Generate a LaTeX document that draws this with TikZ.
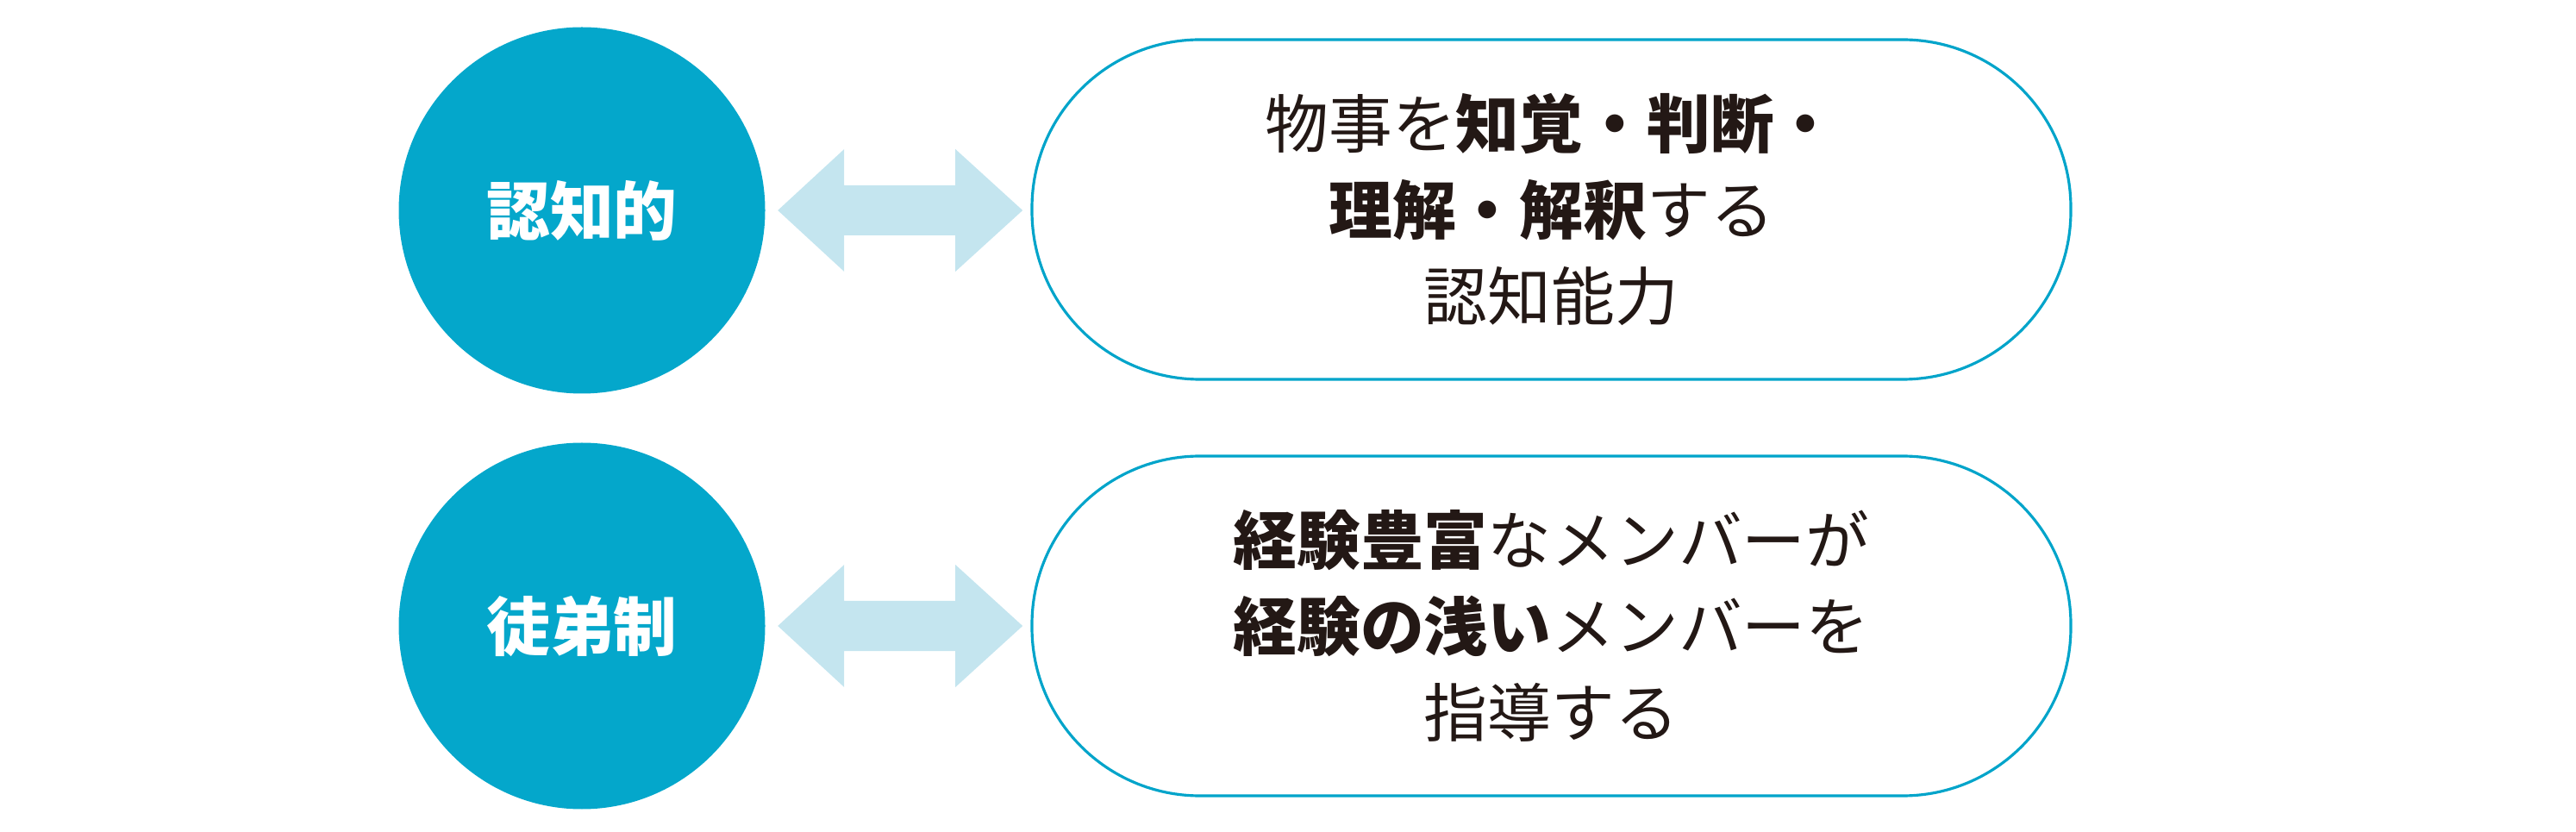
\documentclass[tikz,border=0pt]{standalone}
\usepackage{fontspec}
\newfontfamily\jpfont{Noto Sans CJK JP}
\definecolor{teal}{RGB}{4,167,203}
\definecolor{paleblue}{RGB}{196,229,239}
\definecolor{frame}{RGB}{0,164,202}
\definecolor{ink}{RGB}{35,24,21}
\begin{document}
\begin{tikzpicture}[
  topic/.style={circle, fill=teal, text=white, minimum size=4.25cm, inner sep=0pt,
    font=\jpfont\fontsize{21pt}{25pt}\selectfont\bfseries},
  desc/.style={draw=frame, line width=0.9pt, rounded corners=1.95cm, fill=white, text=ink,
    minimum width=12.05cm, minimum height=3.94cm, align=center,
    font=\jpfont\fontsize{21pt}{28.45pt}\selectfont},
  link/.style={fill=paleblue}
]
\useasboundingbox (0,0) rectangle (29.88,9.64);
\node[topic] (cog) at (6.75,7.20) {認知的};
\node[topic] (appr) at (6.75,2.38) {徒弟制};
\node[desc] (cogbox) at (17.995,7.21) {物事を\textbf{知覚・判断・}\\\textbf{理解・解釈}する\\認知能力};
\node[desc] (apprbox) at (17.995,2.38) {\textbf{経験豊富}なメンバーが\\\textbf{経験の浅い}メンバーを\\指導する};
\fill[link] ([xshift=1.4mm]cog.east) -- ++(0.77,0.71) -- ++(0,-0.42) -- ++(1.29,0) -- ++(0,0.42)
  -- ++(0.78,-0.71) -- ++(-0.78,-0.71) -- ++(0,0.42) -- ++(-1.29,0) -- ++(0,-0.42) -- cycle;
\fill[link] ([xshift=1.4mm]appr.east) -- ++(0.77,0.71) -- ++(0,-0.42) -- ++(1.29,0) -- ++(0,0.42)
  -- ++(0.78,-0.71) -- ++(-0.78,-0.71) -- ++(0,0.42) -- ++(-1.29,0) -- ++(0,-0.42) -- cycle;
\end{tikzpicture}
\end{document}
